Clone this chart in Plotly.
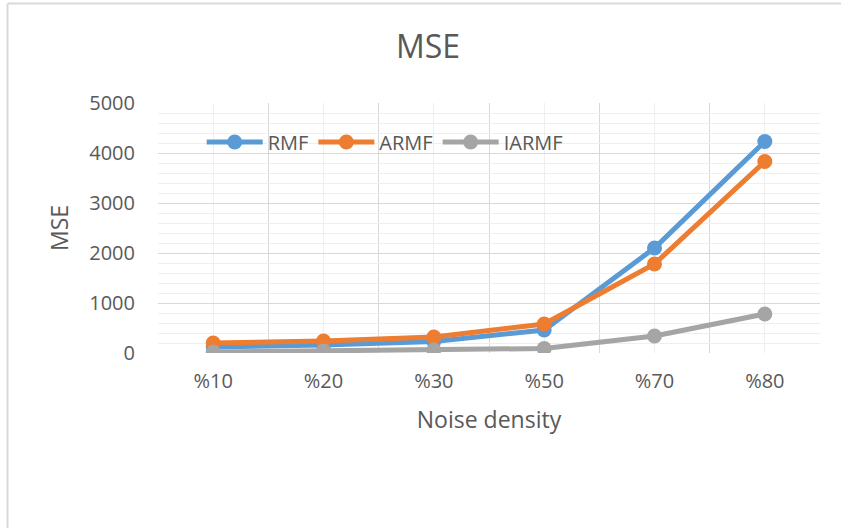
import plotly.graph_objects as go

categories = ["%10", "%20", "%30", "%50", "%70", "%80"]
rmf = [120, 160, 230, 460, 2100, 4230]
armf = [200, 240, 320, 580, 1780, 3830]
iarmf = [20, 40, 60, 90, 340, 780]

series = [("RMF", rmf, "#5B9BD5"), ("ARMF", armf, "#ED7D31"), ("IARMF", iarmf, "#A5A5A5")]
xpos = list(range(len(categories)))

FONT = "Open Sans"
TXT = "#595959"

fig = go.Figure()
for name, vals, col in series:
    fig.add_trace(go.Scatter(
        x=xpos, y=vals, name=name, mode="lines+markers",
        line=dict(color=col, width=5),
        marker=dict(color=col, size=15),
    ))

fig.update_layout(
    width=841, height=528,
    margin=dict(l=158, r=21, t=103, b=175),
    paper_bgcolor="white", plot_bgcolor="white",
    font=dict(family=FONT, color=TXT),
    title=dict(text="MSE", font=dict(size=32, color=TXT, family=FONT),
               x=428/841, xref="container", xanchor="center",
               y=1-47/528, yref="container", yanchor="middle"),
    showlegend=True,
    legend=dict(orientation="h", x=0.066, y=0.844, xanchor="left", yanchor="middle",
                font=dict(size=20, color=TXT), bgcolor="rgba(0,0,0,0)",
                itemwidth=56, tracegroupgap=0),
)

fig.update_xaxes(
    range=[-0.5, len(categories) - 0.5],
    tickmode="array", tickvals=xpos, ticktext=categories,
    showgrid=True, gridcolor="#EFEFEF", gridwidth=1,
    minor=dict(tickmode="linear", tick0=-0.5, dtick=1, showgrid=True,
               gridcolor="#D9D9D9", gridwidth=1),
    zeroline=False, showline=False, ticks="",
    tickfont=dict(size=20, color=TXT), ticklabelstandoff=14,
    title=dict(text="Noise density", font=dict(size=23, color=TXT), standoff=18),
)
fig.update_yaxes(
    range=[0, 5000], tickmode="linear", tick0=0, dtick=1000,
    showgrid=True, gridcolor="#D9D9D9", gridwidth=1,
    minor=dict(tickmode="linear", dtick=200, showgrid=True,
               gridcolor="#EFEFEF", gridwidth=1),
    zeroline=False, showline=False, ticks="",
    tickfont=dict(size=20, color=TXT), ticklabelstandoff=22,
    title=dict(text="MSE", font=dict(size=23, color=TXT), standoff=14),
)

# chart frame (cropped: only top and left edges visible)
pw, ph = 841 - 158 - 21, 528 - 103 - 175
lx = (7.5 - 158) / pw
ty = 1 + (103 - 3.5) / ph
by = 1 + (103 - 540) / ph
rx = 1 + (850 - 820) / pw
fig.add_shape(type="line", xref="paper", yref="paper", x0=lx, x1=lx, y0=by, y1=ty,
              line=dict(color="#D9D9D9", width=2), layer="below")
fig.add_shape(type="line", xref="paper", yref="paper", x0=lx, x1=rx, y0=ty, y1=ty,
              line=dict(color="#D9D9D9", width=2), layer="below")

fig.write_html("out.html", config={"displayModeBar": False},
               post_script="document.body.style.margin='0';document.body.style.overflow='hidden';")
